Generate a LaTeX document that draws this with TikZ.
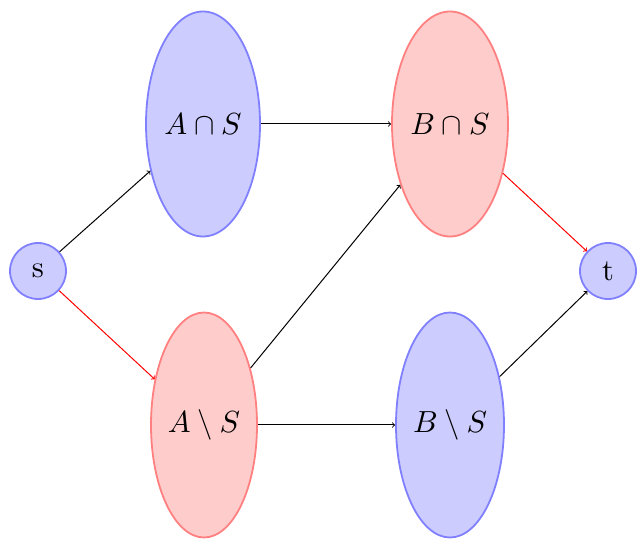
\documentclass[tikz,border=0pt]{standalone}
\usepackage{graphicx}
\usetikzlibrary{shapes.geometric}
\newcommand{\bigtxt}[1]{\scalebox{3.05}{#1}}
\begin{document}
\begin{tikzpicture}[x=1pt,y=1pt,
  bluenode/.style={draw=blue!50,fill=blue!20,line width=1.8pt},
  rednode/.style={draw=red!50,fill=red!20,line width=1.8pt},
  vtx/.style={circle,bluenode,minimum size=56pt,inner sep=0pt},
  setnode/.style={ellipse,inner sep=0pt,minimum height=225pt},
  arr/.style={->,line width=1pt},
  redarr/.style={arr,draw=red}]
\useasboundingbox (0,0) rectangle (637,541);
\node[vtx] (s) at (38,270) {\bigtxt{s}};
\node[vtx] (t) at (608,270) {\bigtxt{t}};
\node[setnode,bluenode,minimum width=114pt] (AcapS) at (203,417) {\bigtxt{$A\cap S$}};
\node[setnode,rednode,minimum width=106pt] (AsetS) at (204,116) {\bigtxt{$A\setminus S$}};
\node[setnode,rednode,minimum width=116pt] (BcapS) at (450,417) {\bigtxt{$B\cap S$}};
\node[setnode,bluenode,minimum width=108pt] (BsetS) at (450,116) {\bigtxt{$B\setminus S$}};
\draw[arr] (s) -- (AcapS);
\draw[redarr] (s) -- (AsetS);
\draw[arr] (AcapS) -- (BcapS);
\draw[arr] (AsetS) -- (BcapS);
\draw[arr] (AsetS) -- (BsetS);
\draw[redarr] (BcapS) -- (t);
\draw[arr] (BsetS) -- (t);
\end{tikzpicture}
\end{document}
